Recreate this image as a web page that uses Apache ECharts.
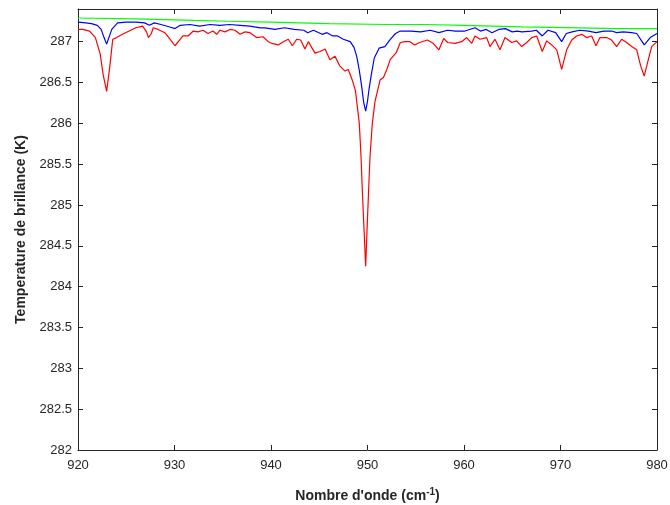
<!DOCTYPE html>
<html><head><meta charset="utf-8">
<script src="https://cdn.jsdelivr.net/npm/echarts@6/dist/echarts.min.js"></script>
<style>html,body{margin:0;padding:0;background:#fff}#c{width:670px;height:505px}</style>
</head><body><div id="c"></div>
<script>
// Red series (wavenumber, brightness temperature)
const redX = [920.0,920.5,921.2,921.8,922.3,922.6,922.97,923.3,923.6,924.0,924.6,925.3,926.0,926.7,927.1,927.3,927.6,927.8,928.3,929.0,929.53,930.05,930.88,931.4,931.95,932.44,932.95,933.47,933.99,934.37,934.72,935.23,935.75,936.27,936.79,937.31,937.82,938.52,939.17,939.72,940.07,940.76,941.27,941.79,942.21,942.66,943.07,943.52,943.87,944.56,945.08,945.6,946.11,946.63,947.15,947.67,948.01,948.42,948.75,949.15,949.33,949.46,949.61,949.81,949.98,950.12,950.26,950.5,950.78,951.3,951.65,952.0,952.35,953.0,953.4,953.9,954.4,954.9,955.4,956.2,956.8,957.4,957.9,958.3,959.07,959.76,960.28,960.8,961.14,961.66,962.35,962.69,963.21,963.73,964.25,964.94,965.46,965.98,966.5,967.02,967.53,968.11,968.57,969.09,969.61,970.12,970.64,971.16,971.68,972.2,972.71,973.23,973.68,974.09,974.79,975.3,975.82,976.34,976.86,977.38,977.9,978.31,978.68,979.1,979.45,980.0];
const redY = [287.15,287.15,287.13,287.05,286.85,286.6,286.39,286.7,287.03,287.05,287.09,287.13,287.17,287.19,287.12,287.05,287.1,287.17,287.15,287.11,287.03,286.95,287.07,287.07,287.13,287.12,287.14,287.1,287.13,287.09,287.14,287.12,287.15,287.14,287.09,287.12,287.11,287.05,287.06,287.0,286.98,286.96,287.0,287.03,286.95,287.03,287.02,286.91,287.0,286.86,286.88,286.91,286.78,286.82,286.7,286.64,286.66,286.53,286.4,286.0,285.59,285.19,284.78,284.25,284.78,285.19,285.59,286.0,286.27,286.53,286.56,286.66,286.78,286.87,286.99,287.0,287.0,286.96,286.99,287.02,286.98,286.9,287.04,286.99,286.98,287.0,287.05,286.98,287.07,287.03,287.05,286.94,287.03,286.9,287.05,286.99,287.01,286.94,286.99,287.05,287.07,286.88,287.01,286.96,286.9,286.66,286.9,287.02,287.07,287.09,287.05,287.07,286.95,287.05,287.05,287.02,286.94,287.03,286.99,286.94,286.9,286.7,286.58,286.78,286.94,287.0];

// Blue series
const blueX = [920.0,920.8,921.4,922.0,922.4,922.7,922.97,923.2,923.5,924.1,925.0,926.0,926.9,927.4,927.9,928.6,929.5,930.05,930.6,931.6,932.6,933.7,934.7,935.7,936.8,937.8,938.9,939.38,940.4,941.4,942.4,943.4,943.8,944.4,945.3,945.8,946.4,946.9,947.5,948.2,948.6,948.88,949.15,949.4,949.6,949.81,950.0,950.16,950.4,950.7,951.2,951.8,952.3,952.9,953.4,954.5,955.5,956.5,957.4,958.3,959.1,960.1,961.14,961.7,962.3,962.9,963.6,964.3,965.0,965.5,966.0,967.0,967.5,968.11,968.7,969.5,970.12,970.6,971.2,972.0,972.9,973.68,974.5,975.3,975.82,976.5,977.38,977.9,978.68,979.3,980.0];
const blueY = [287.24,287.23,287.22,287.2,287.15,287.05,286.97,287.05,287.15,287.23,287.24,287.24,287.23,287.2,287.23,287.21,287.18,287.16,287.2,287.21,287.19,287.21,287.2,287.21,287.2,287.19,287.17,287.17,287.15,287.17,287.15,287.14,287.11,287.14,287.09,287.11,287.07,287.07,287.03,287.0,286.93,286.82,286.65,286.45,286.26,286.15,286.27,286.42,286.6,286.8,286.92,286.94,287.02,287.1,287.13,287.13,287.12,287.14,287.11,287.14,287.13,287.13,287.17,287.13,287.15,287.11,287.15,287.16,287.12,287.13,287.12,287.13,287.14,287.07,287.14,287.11,287.0,287.1,287.12,287.14,287.13,287.11,287.13,287.13,287.11,287.12,287.11,287.1,286.96,287.05,287.1];

// Green series
const greenX = [920,926,932,935.5,940,946,952,956,960,966,972,976,980];
const greenY = [287.29,287.28,287.26,287.25,287.24,287.22,287.21,287.21,287.2,287.18,287.17,287.16,287.16];

// Axis ticks
const xTicks = {min: 920, max: 980, interval: 10};
const yTicks = {min: 282, max: 287.4, interval: 0.5};

const zip = (xs, ys) => xs.map((x, i) => [x, ys[i]]);
const axisCol = '#262626';
const chart = echarts.init(document.getElementById('c'), null, {renderer: 'canvas'});
const baseX = {
  type: 'value', min: xTicks.min, max: xTicks.max, interval: xTicks.interval,
  axisLine: {show: true, onZero: false, lineStyle: {color: axisCol, width: 1}},
  axisTick: {show: true, inside: true, length: 5, lineStyle: {color: axisCol}},
  splitLine: {show: false}
};
const baseY = {
  type: 'value', min: yTicks.min, max: yTicks.max, interval: yTicks.interval,
  axisLine: {show: true, onZero: false, lineStyle: {color: axisCol, width: 1}},
  axisTick: {show: true, inside: true, length: 5, lineStyle: {color: axisCol}},
  splitLine: {show: false}
};
chart.setOption({
  animation: false,
  backgroundColor: '#fff',
  grid: {left: 78, right: 13, top: 9, bottom: 55, containLabel: false, outerBoundsMode: 'none'},
  xAxis: [
    Object.assign({}, baseX, {
      position: 'bottom',
      axisLabel: {show: true, color: axisCol, fontSize: 13, fontFamily: 'Liberation Sans, Arial, sans-serif', margin: 9, showMaxLabel: true},
      name: "Nombre d'onde (cm{sup|-1})",
      nameLocation: 'middle', nameGap: 37,
      nameTextStyle: {color: '#262626', fontSize: 14, fontWeight: 'bold', fontFamily: 'Liberation Sans, Arial, sans-serif',
        rich: {sup: {fontSize: 10, fontWeight: 'bold', verticalAlign: 'top', padding: [0, 0, 8, 0], fontFamily: 'Liberation Sans, Arial, sans-serif', color: '#262626'}}}
    }),
    Object.assign({}, baseX, {position: 'top', axisLabel: {show: false}})
  ],
  yAxis: [
    Object.assign({}, baseY, {
      position: 'left',
      axisLabel: {show: true, color: axisCol, fontSize: 13, fontFamily: 'Liberation Sans, Arial, sans-serif', margin: 6, showMaxLabel: false,
        formatter: v => (Math.abs(v * 2 - Math.round(v * 2)) < 1e-6 ? String(v) : '')},
      name: 'Temperature de brillance (K)',
      nameLocation: 'middle', nameGap: 50,
      nameTextStyle: {color: '#262626', fontSize: 14, fontWeight: 'bold', fontFamily: 'Liberation Sans, Arial, sans-serif'}
    }),
    Object.assign({}, baseY, {position: 'right', axisLabel: {show: false}})
  ],
  series: [
    {type: 'line', data: zip(greenX, greenY), showSymbol: false, lineStyle: {color: '#00ff00', width: 1.2}, itemStyle: {color: '#00ff00'}},
    {type: 'line', data: zip(redX, redY), showSymbol: false, lineStyle: {color: '#ff0000', width: 1.2}, itemStyle: {color: '#ff0000'}},
    {type: 'line', data: zip(blueX, blueY), showSymbol: false, lineStyle: {color: '#0000ff', width: 1.2}, itemStyle: {color: '#0000ff'}}
  ]
});
</script></body></html>
